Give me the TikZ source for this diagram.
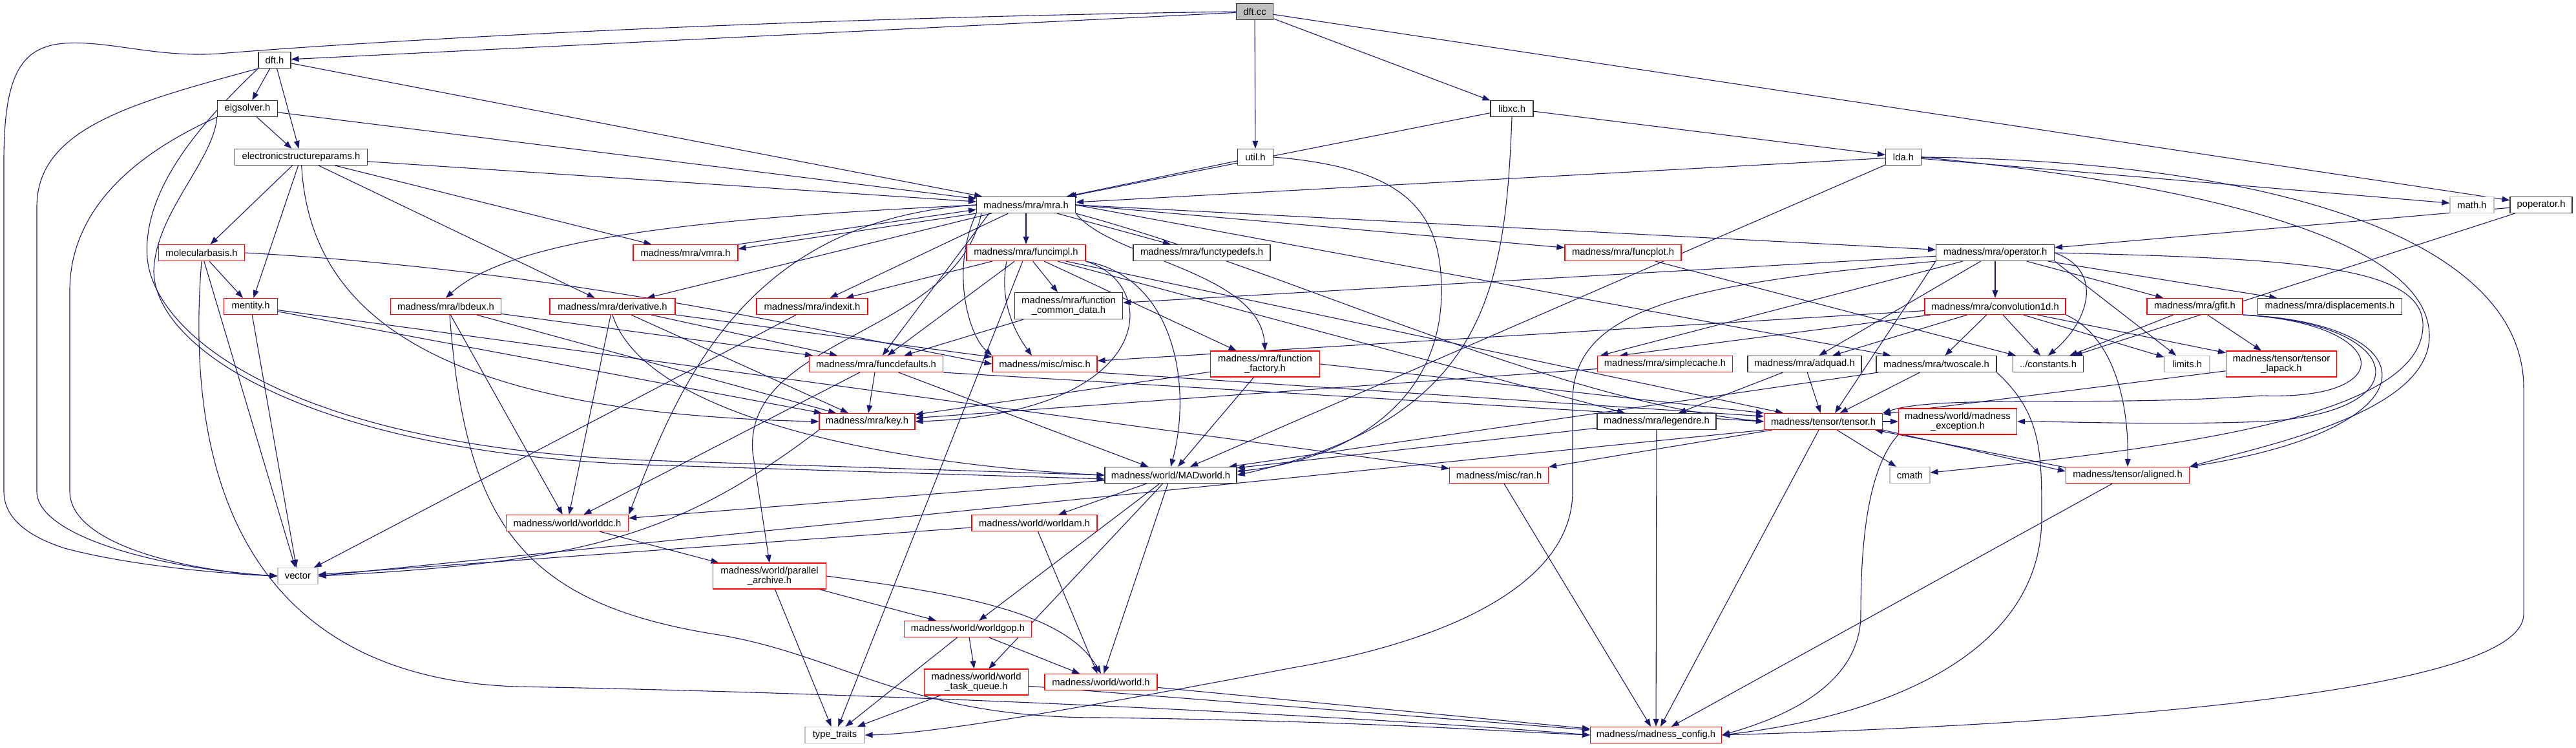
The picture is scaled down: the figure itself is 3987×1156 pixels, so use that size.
\documentclass[tikz,border=0pt]{standalone}
\usepackage{fontspec}
\setmainfont{Liberation Sans}
\usetikzlibrary{arrows.meta}
\definecolor{edgeblue}{HTML}{191970}
\definecolor{boxgray}{HTML}{BFBFBF}
\definecolor{boxdark}{HTML}{333333}
\definecolor{boxred}{HTML}{FF0000}
\newcommand\nodefont{\fontsize{7.4}{7.2}\selectfont}
\pgfdeclarelayer{edgelayer}
\pgfsetlayers{edgelayer,main}
\tikzset{
  nb/.style={draw=boxdark, line width=0.6pt, fill=white, inner sep=0pt,
    minimum height=12.5pt, font=\nodefont, align=center},
  nr/.style={nb, draw=boxred},
  ng/.style={nb, draw=boxgray},
  wd/.style={minimum width=#1*0.5pt},
  hh/.style={minimum height=#1*0.5pt},
  edg/.style={draw=edgeblue, line width=0.55pt, -{Triangle[length=6pt,width=4.4pt]}},
}
\begin{document}
\begin{tikzpicture}[x=0.5pt,y=-0.5pt]
\useasboundingbox (0,0) rectangle (3987,1156);
% ---------------- nodes ----------------
\node[nb,fill=boxgray,wd=57] (dftcc) at (1942,18) {dft.cc};
\node[nb,wd=50] (dfth) at (425,93) {dft.h};
\node[nb,wd=93] (eig) at (383,168) {eigsolver.h};
\node[nb,wd=66] (libxc) at (2340,168) {libxc.h};
\node[nb,wd=205] (esp) at (466,243) {electronicstructureparams.h};
\node[nb,wd=55] (util) at (1943,243) {util.h};
\node[nb,wd=55] (lda) at (2946,243) {lda.h};
\node[nb,wd=153] (mra) at (1588,317) {madness/mra/mra.h};
\node[ng,wd=68] (mathh) at (3826,317) {math.h};
\node[nb,wd=96] (poper) at (3933,317) {poperator.h};
\node[nr,wd=133] (molb) at (312,391) {molecularbasis.h};
\node[nr,wd=162] (vmra) at (1061,391) {madness/mra/vmra.h};
\node[nr,wd=184] (fimpl) at (1588,391) {madness/mra/funcimpl.h};
\node[nb,wd=212] (ftd) at (1860,391) {madness/mra/functypedefs.h};
\node[nr,wd=180] (fplot) at (2512,391) {madness/mra/funcplot.h};
\node[nb,wd=183] (oper) at (3088,391) {madness/mra/operator.h};
\node[nr,wd=83] (ment) at (388,474) {mentity.h};
\node[nr,wd=171] (lbd) at (690,474) {madness/mra/lbdeux.h};
\node[nr,wd=194] (deriv) at (948,474) {madness/mra/derivative.h};
\node[nr,wd=172] (idx) at (1257,474) {madness/mra/indexit.h};
\node[nb,wd=167,hh=41] (fcd) at (1654,473) {madness/mra/function\\\_common\_data.h};
\node[nr,wd=218] (conv) at (3088,474) {madness/mra/convolution1d.h};
\node[nr,wd=148] (gfit) at (3397,474) {madness/mra/gfit.h};
\node[nb,wd=223] (disp) at (3606,474) {madness/mra/displacements.h};
\node[nr,wd=207] (fdef) at (1356,563) {madness/mra/funcdefaults.h};
\node[nr,wd=162] (misc) at (1617,563) {madness/misc/misc.h};
\node[nr,wd=169,hh=40] (ffac) at (1958,563) {madness/mra/function\\\_factory.h};
\node[nr,wd=209] (scache) at (2577,563) {madness/mra/simplecache.h};
\node[nb,wd=176] (adq) at (2793,563) {madness/mra/adquad.h};
\node[nb,wd=186] (twos) at (2997,563) {madness/mra/twoscale.h};
\node[nb,wd=109] (cnst) at (3170,563) {../constants.h};
\node[ng,wd=70] (lim) at (3385,563) {limits.h};
\node[nr,wd=171,hh=40] (lapack) at (3531,563) {madness/tensor/tensor\\\_lapack.h};
\node[nr,wd=148] (key) at (1342,652) {madness/mra/key.h};
\node[nb,wd=184] (leg) at (2564,652) {madness/mra/legendre.h};
\node[nr,wd=183] (tens) at (2822,652) {madness/tensor/tensor.h};
\node[nr,wd=183,hh=40] (mexc) at (3030,652) {madness/world/madness\\\_exception.h};
\node[nb,wd=204] (madw) at (1812,735) {madness/world/MADworld.h};
\node[nr,wd=153] (ran) at (2320,735) {madness/misc/ran.h};
\node[ng,wd=62] (cmath) at (2956,735) {cmath};
\node[nr,wd=191] (algn) at (3293,735) {madness/tensor/aligned.h};
\node[nr,wd=189] (wdc) at (878,809) {madness/world/worlddc.h};
\node[nr,wd=194] (wam) at (1601,809) {madness/world/worldam.h};
\node[ng,wd=62] (vec) at (461,891) {vector};
\node[nr,wd=175,hh=40] (par) at (1191,891) {madness/world/parallel\\\_archive.h};
\node[nr,wd=197] (wgop) at (1498,973) {madness/world/worldgop.h};
\node[nr,wd=161,hh=40] (wtq) at (1511,1055) {madness/world/world\\\_task\_queue.h};
\node[nr,wd=174] (world) at (1704,1055) {madness/world/world.h};
\node[ng,wd=92] (tt) at (1292,1137) {type\_traits};
\node[nr,wd=203] (mcfg) at (2563,1137) {madness/madness\_config.h};
% ---------------- edges ----------------
\begin{pgfonlayer}{edgelayer}
\foreach \a/\b in {
 dftcc/dfth, dftcc/util, dftcc/libxc, dftcc/poper,
 dfth/eig, dfth/esp, dfth/mra,
 eig/esp, eig/mra,
 esp/molb, esp/ment, esp/mra, esp/vmra, esp/deriv,
 molb/ment, molb/vec,
 ment/vec, ment/key, ment/ran,
 lbd/wdc, lbd/key, lbd/fdef,
 deriv/fdef, deriv/misc, deriv/key, deriv/wdc,
 idx/vec,
 mra/fimpl, mra/ftd, mra/idx, mra/deriv,
 fimpl/idx, fimpl/fcd, fimpl/fdef, fimpl/ffac, fimpl/tens, fimpl/tt, fimpl/leg,
 fcd/fdef,
 fdef/key, fdef/wdc, fdef/madw,
 ffac/key, ffac/madw,
 util/mra,
 libxc/mra, libxc/lda,
 lda/mra, lda/mathh, lda/madw,
 poper/oper, poper/cnst,
 oper/fcd, oper/conv, oper/gfit, oper/disp, oper/adq,
 conv/adq, conv/twos, conv/cnst, conv/lim, conv/lapack, conv/misc,
 gfit/cnst, gfit/lapack,
 fplot/cnst,
 scache/key,
 adq/leg, adq/tens,
 twos/tens, twos/madw,
 leg/mcfg, leg/madw,
 lapack/tens,
 tens/ran, tens/cmath, tens/mcfg, tens/mexc,
 algn/mcfg, ran/mcfg,
 madw/wdc, madw/wam, madw/wgop, madw/wtq, madw/world,
 wdc/par,
 wam/vec, wam/world,
 par/wgop, par/tt,
 wgop/wtq, wgop/world, wgop/tt,
 wtq/tt, wtq/mcfg,
 world/mcfg}
 \draw[edg] (\a) -- (\b);
% edges with chosen anchors
\draw[edg] (mra.east) -- (fplot);
\draw[edg] (mra.east) -- (oper);
\draw[edg] (mra.east) -- (twos);
\draw[edg] ([xshift=10pt]mra.south west) -- (fdef);
\draw[edg] (mra.south west) -- ([yshift=3pt]vmra.east);
\draw[edg] (vmra.north east) -- ([yshift=3pt]mra.south west);
\draw[edg] (fdef.south east) -- (tens.west);
\draw[edg] (misc.south east) -- ([yshift=4pt]tens.west);
\draw[edg] (ffac.east) -- (tens.north west);
\draw[edg] (oper) -- ([xshift=-50pt]scache.north);
\draw[edg] (conv) -- ([xshift=-35pt]scache.north);
\draw[edg] (oper.south east) -- (lim);
\draw[edg] (oper.south west) -- ([xshift=9pt]tens.north);
\draw[edg] (tens.south west) -- (vec.east);
\draw[edg] (tens.south east) -- ([yshift=3pt]algn.west);
\draw[edg] ([yshift=6pt]algn.west) -- ([xshift=-6pt]tens.south east);
% curved edges
\draw[edg] (dftcc.west) .. controls (1200,28) and (600,62) .. (351,82) .. controls (250,92) and (170,62) .. (100,67) .. controls (30,72) and (6,120) .. (6,250) -- (6,760) .. controls (6,810) and (60,835) .. (100,848) .. controls (200,875) and (350,888) .. (vec.west);
\draw[edg] (dfth.south west) .. controls (200,160) and (57,200) .. (57,320) -- (57,760) .. controls (57,830) and (250,880) .. (vec.west);
\draw[edg] (eig.south west) .. controls (250,220) and (108,300) .. (108,450) -- (108,760) .. controls (108,840) and (280,882) .. (vec.west);
\draw[edg] (dfth.south west) .. controls (300,200) and (220,300) .. (228,400) .. controls (240,520) and (450,690) .. (1000,712) -- (madw.west);
\draw[edg] (eig.south west) .. controls (330,250) and (240,330) .. (238,420) .. controls (240,540) and (480,700) .. (1000,719) -- ([yshift=-3pt]madw.west);
\draw[edg] (esp) .. controls (480,500) and (700,640) .. (key.west);
\draw[edg] (molb.east) .. controls (900,420) and (1300,520) .. (misc.west);
\draw[edg] (molb.south) .. controls (280,800) and (430,1050) .. (800,1062) .. controls (1500,1075) and (2200,1115) .. (mcfg.west);
\draw[edg] ([xshift=3pt]lbd.south) .. controls (720,800) and (800,930) .. (1100,980) .. controls (1300,1010) and (1400,1110) .. (1700,1110) .. controls (2100,1115) and (2300,1130) .. (mcfg.west);
\draw[edg] (deriv.south) .. controls (1000,650) and (1400,720) .. (madw.west);
\draw[edg] (key.south west) .. controls (1050,830) and (900,870) .. (vec.east);
\draw[edg] (mra.west) .. controls (1150,335) and (800,360) .. (lbd.north);
\draw[edg] (mra.west) .. controls (1150,340) and (1050,600) .. (wdc.north east);
\draw[edg] (mra.south west) .. controls (1470,420) and (1500,520) .. (misc.north west);
\draw[edg] (mra.south east) .. controls (1720,400) and (1950,420) .. (ffac.north);
\draw[edg] (mra.south east) .. controls (2000,420) and (2400,620) .. (tens.west);
\draw[edg] ([xshift=4pt]mra.south west) .. controls (1480,520) and (1150,520) .. (1165,700) -- (par.north);
\draw[edg] ([xshift=-15pt]fimpl.south) .. controls (1545,470) and (1575,520) .. ([xshift=-10pt]misc.north);
\draw[edg] (fimpl.south east) .. controls (1800,440) and (1790,640) .. (key.east);
\draw[edg] (fimpl.south east) .. controls (1820,430) and (1845,600) .. (madw.north);
\draw[edg] (libxc.south) .. controls (2330,450) and (2300,650) .. (madw.east);
\draw[edg] (util.east) .. controls (2180,260) and (2231,330) .. (2231,450) .. controls (2231,640) and (2060,715) .. ([yshift=3pt]madw.east);
\draw[edg] (lda.east) .. controls (3450,290) and (3760,380) .. (3760,520) .. controls (3760,640) and (3500,690) .. (algn.north east);
\draw[edg] (lda.east) .. controls (3550,250) and (3906,380) .. (3906,600) -- (3906,950) .. controls (3906,1065) and (3300,1118) .. (mcfg.east);
\draw[edg] (oper.east) .. controls (3260,420) and (3230,500) .. (cnst.north);
\draw[edg] (oper.south west) .. controls (2600,440) and (2434,480) .. (2434,620) -- (2434,760) .. controls (2434,900) and (2250,990) .. (2000,1033) .. controls (1700,1090) and (1450,1135) .. (tt.east);
\draw[edg] (oper.east) .. controls (3550,400) and (3745,410) .. (3750,500) .. controls (3755,640) and (3400,690) .. ([yshift=2pt]cmath.east);
\draw[edg] (conv.south east) .. controls (3270,520) and (3295,620) .. (algn.north);
\draw[edg] (gfit.south east) .. controls (3700,500) and (3720,620) .. (3500,612) .. controls (3250,630) and (3000,610) .. (tens.north east);
\draw[edg] (gfit.south east) .. controls (3730,500) and (3750,640) .. (3500,652) .. controls (3350,658) and (3200,652) .. (mexc.east);
\draw[edg] (gfit.south east) .. controls (3760,500) and (3780,660) .. (algn.north east);
\draw[edg] (twos.south east) .. controls (3160,640) and (3160,700) .. (3160,800) .. controls (3160,1020) and (2900,1110) .. (mcfg.east);
\draw[edg] (mexc.south west) .. controls (2895,720) and (2880,820) .. (2880,950) .. controls (2880,1060) and (2760,1110) .. (mcfg.east);
\draw[edg] (par.east) .. controls (1500,920) and (1650,950) .. (world.north);
\end{pgfonlayer}
\end{tikzpicture}
\end{document}
